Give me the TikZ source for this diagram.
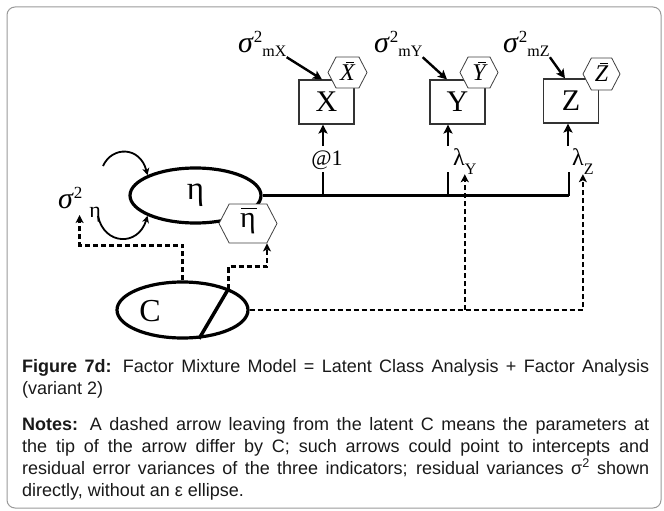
\documentclass[tikz,border=0pt]{standalone}
\usepackage{fontspec}
\setmainfont{Liberation Serif}
\newfontfamily\capfont{Liberation Sans}
\usetikzlibrary{arrows.meta,shapes.geometric,shapes.symbols}
\hyphenpenalty=10000

% residual variance label: sigma, raised 2, lowered subscript
\newcommand{\varsig}[3]{\textit{σ}\raisebox{10pt}{\fontsize{17}{17}\selectfont 2}\raisebox{-#2}{\fontsize{#3}{#3}\selectfont #1}}
\newcommand{\loadlab}[1]{λ\raisebox{-9pt}{\fontsize{16}{16}\selectfont #1}}
% mean label: text with a bar ruled above it (#2 bar width, #3 bar offset, #4 gap)
\newsavebox\meanbox
\newcommand{\meanlab}[4]{\sbox\meanbox{#1}\smash{\rlap{\hskip#3\raisebox{\dimexpr\ht\meanbox+#4\relax}{\rule{#2}{1pt}}}}\usebox\meanbox}

\begin{document}
\begin{tikzpicture}[x=1pt,y=-1pt,
  font=\fontsize{30}{34}\selectfont,
  obs/.style={draw=black!80, line width=1.2pt, inner sep=0, minimum width=55pt, minimum height=44pt},
  mean/.style={signal, signal to=west and east, signal pointer angle=125, draw=black!75,
               fill=white, line width=0.8pt, inner sep=0},
  latent/.style={ellipse, draw, line width=3.2pt, inner sep=0, minimum width=131pt, minimum height=55pt},
  lab/.style={inner sep=0, anchor=base west},
  arr/.style={-{Stealth[length=9pt,width=9pt,inset=2pt]}, line width=2.4pt},
  varr/.style={-{Stealth[length=7pt,width=7pt,inset=2pt]}, line width=1.8pt},
  dasharr/.style={-{Stealth[length=8pt,width=8pt,inset=2pt]}, line width=2.4pt, dash pattern=on 5pt off 3pt},
  spine/.style={line width=2.8pt},
  captext/.style={inner sep=0, anchor=north west, text width=627pt, align=justify,
                  font=\capfont\fontsize{18}{22}\selectfont, text=black!90}
]
\useasboundingbox (0,0) rectangle (664,511);
\draw[black!40, line width=1pt, rounded corners=8pt] (7,7) rectangle (661,508);

% indicators and their intercepts
\node[obs] (X) at (326.5,102) {X};
\node[obs] (Y) at (457.5,102) {Y};
\node[obs] (Z) at (571,101) {Z};
\node[mean, minimum width=39pt, minimum height=31pt, font=\fontsize{24}{24}\selectfont\itshape]
  (Xm) at (347.5,72.5) {\meanlab{X}{8pt}{6pt}{2pt}};
\node[mean, minimum width=38pt, minimum height=31pt, font=\fontsize{24}{24}\selectfont\itshape]
  (Ym) at (479,72.5) {\meanlab{Y}{8pt}{6pt}{2pt}};
\node[mean, minimum width=37pt, minimum height=32pt, font=\fontsize{24}{24}\selectfont\itshape]
  (Zm) at (601.5,74) {\meanlab{Z}{8pt}{5pt}{2pt}};

% residual variances
\node[lab] (sX) at (238,53) {\varsig{mX}{4pt}{16}};
\node[lab] (sY) at (374,53) {\varsig{mY}{4pt}{16}};
\node[lab] (sZ) at (503,53) {\varsig{mZ}{4pt}{16}};
\draw[arr] (sX.south east) -- ([xshift=-4.5pt]X.north);
\draw[arr] (sY.south east) -- ([xshift=-10.5pt]Y.north);
\draw[arr] (sZ.south east) -- ([xshift=-6pt]Z.north);

% factor
\node[latent, font=\fontsize{33}{33}\selectfont] (eta) at (195.5,195.5) {η};
\node[mean, minimum width=58pt, minimum height=39pt] (etam) at (248,223.5) {\meanlab{η}{16pt}{1pt}{4pt}};
\node[lab] (sE) at (58,208) {\varsig{\hspace{7pt}η}{9pt}{22}};
\coordinate (vT) at (103,166);
\coordinate (vB) at (98,216);
\draw[varr] (vT) .. controls (112,146) and (140,146) .. (eta.157);
\draw[varr] (vB) .. controls (104,245) and (138,247) .. (eta.203);

% loadings
\coordinate (jX) at (323,195.5);
\coordinate (jY) at (448,195.5);
\coordinate (jZ) at (569,195.5);
\coordinate (kX) at (323,172);
\coordinate (kY) at (448,172);
\coordinate (kZ) at (569,172);
\draw[spine] (eta.east) -- (jZ);
\draw[spine] (jX) -- (kX);
\draw[spine] (jY) -- (kY);
\draw[spine] (jZ) -- (kZ);
\node[inner sep=0, font=\fontsize{22}{22}\selectfont] (l1) at (327,160) {@1};
\node[lab, font=\fontsize{24}{24}\selectfont] (lY) at (453,165) {\loadlab{Y}};
\node[lab, font=\fontsize{24}{24}\selectfont] (lZ) at (572,165) {\loadlab{Z}};
\coordinate (aX) at (323,146);
\coordinate (aY) at (448,146);
\coordinate (aZ) at (568,146);
\draw[arr] (aX) -- (aX |- X.south);
\draw[arr] (aY) -- (aY |- Y.south);
\draw[arr] (aZ) -- (aZ |- Z.south);

% latent class
\node[latent, minimum height=56pt] (C) at (182.5,310) {};
\node[inner sep=0, font=\fontsize{32}{32}\selectfont] (Clab) at (150,311) {C};
\draw[line width=3.5pt] (C.25) -- (C.300);
\draw[dasharr] (C.north) -- ++(0,-35) -| ([yshift=-7pt]sE.base);
\draw[dasharr] (C.25) -- ++(0,-22) -| ([xshift=19pt]etam.south);
\draw[dasharr] (C.east) -| (lZ.south);
\draw[dasharr] (C.east -| lY.south) -- (lY.south);

% caption
\node[captext] (cap) at (22,359) {\textbf{Figure 7d:} Factor Mixture Model = Latent Class Analysis + Factor Analysis (variant 2)};
\node[captext] (notes) at (22,417) {\textbf{Notes:} A dashed arrow leaving from the latent C means the parameters at\linebreak
  the tip of the arrow differ by C; such arrows could point to intercepts and\linebreak
  residual error variances of the three indicators; residual variances σ\textsuperscript{2} shown\linebreak
  directly, without an ε ellipse.};
\end{tikzpicture}
\end{document}
